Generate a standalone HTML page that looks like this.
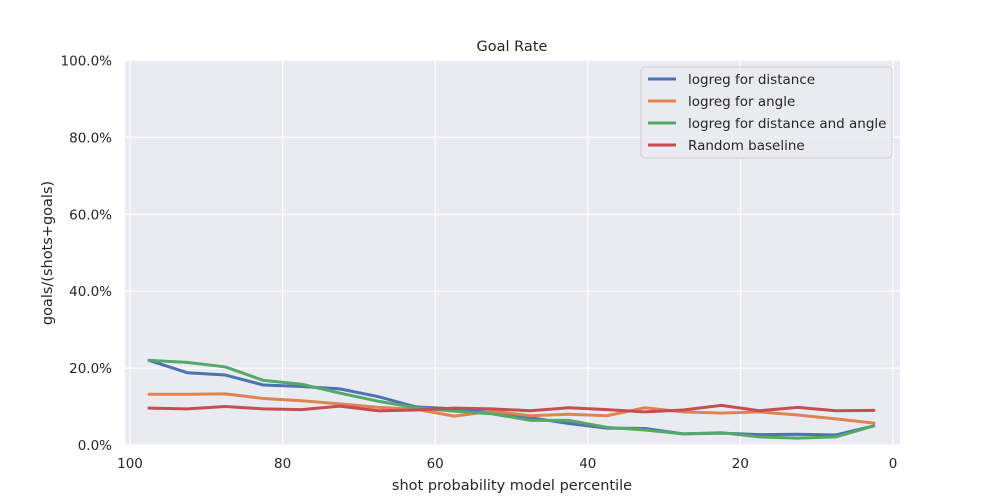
<!DOCTYPE html>
<html><head><meta charset="utf-8"><style>
body{margin:0;background:#fff;font-family:"DejaVu Sans","Liberation Sans",sans-serif}
svg text{font-family:"DejaVu Sans","Liberation Sans",sans-serif;fill:#262626}
</style></head><body>
<svg id="c" width="1000" height="500"></svg>
<script>
const xs=[97.5,92.5,87.5,82.5,77.5,72.5,67.5,62.5,57.5,52.5,47.5,42.5,37.5,32.5,27.5,22.5,17.5,12.5,7.5,2.5];
const distance=[22.0,18.8,18.2,15.6,15.2,14.6,12.6,9.9,9.4,8.5,7.1,5.6,4.4,4.3,2.9,3.1,2.7,2.8,2.6,5.0];
const angle=[13.2,13.2,13.3,12.1,11.5,10.7,9.8,9.3,7.5,8.8,7.6,8.0,7.6,9.7,8.6,8.3,8.6,7.8,6.8,5.7];
const both=[22.0,21.5,20.3,16.8,15.8,13.5,11.4,9.7,8.8,8.1,6.4,6.4,4.6,3.9,2.9,3.2,2.1,1.8,2.1,5.0];
const random=[9.6,9.4,10.0,9.4,9.2,10.1,8.9,9.1,9.6,9.4,8.9,9.7,9.2,8.6,9.1,10.3,8.9,9.8,8.9,9.0];
const xTicks=[100,80,60,40,20,0];
const yTicks=[0,20,40,60,80,100];
const series=[["logreg for distance",distance,"#4c72b0"],["logreg for angle",angle,"#dd8452"],["logreg for distance and angle",both,"#55a868"],["Random baseline",random,"#c44e52"]];
const NS="http://www.w3.org/2000/svg",svg=document.getElementById('c');
const X=v=>130+(100-v)*7.63, Y=v=>445-v*3.845;
function mk(t,a,p){const e=document.createElementNS(NS,t);for(const k in a)e.setAttribute(k,a[k]);(p||svg).appendChild(e);return e;}
let bg=mk('rect',{x:125,y:60,width:775,height:385,fill:'#eaeaf2'});


xTicks.forEach(t=>{mk('line',{x1:X(t),x2:X(t),y1:60,y2:445,stroke:'#fff','stroke-width':1.2});
let l=mk('text',{x:X(t),y:468,'text-anchor':'middle','font-size':13.5});l.textContent=t;

});
yTicks.forEach(t=>{mk('line',{x1:125,x2:900,y1:Y(t),y2:Y(t),stroke:'#fff','stroke-width':1.2});
let l=mk('text',{x:112,y:Y(t)+5,'text-anchor':'end','font-size':13.5});l.textContent=t.toFixed(1)+'%';

});
series.forEach(s=>{let p=mk('polyline',{points:xs.map((x,i)=>X(x)+','+Y(s[1][i])).join(' '),fill:'none',stroke:s[2],'stroke-width':3,'stroke-linejoin':'round','stroke-linecap':'round'});

});
let t=mk('text',{x:512,y:51,'text-anchor':'middle','font-size':14.5});t.textContent='Goal Rate';


let xt=mk('text',{x:512,y:490,'text-anchor':'middle','font-size':14.5});xt.textContent='shot probability model percentile';


let yt=mk('text',{x:0,y:0,'text-anchor':'middle','font-size':14.5,transform:'translate(52,253) rotate(-90)'});yt.textContent='goals/(shots+goals)';


let lg=mk('g',{});


mk('rect',{x:641,y:67,width:251,height:91,rx:4,fill:'#eaeaf2',stroke:'#ccc','fill-opacity':0.8},lg);
series.forEach((s,i)=>{const yy=79+i*22;
mk('line',{x1:648,x2:676,y1:yy,y2:yy,stroke:s[2],'stroke-width':3},lg);
let e=mk('text',{x:688,y:yy+5,'font-size':13.5},lg);e.textContent=s[0];

});
</script>
</body></html>
